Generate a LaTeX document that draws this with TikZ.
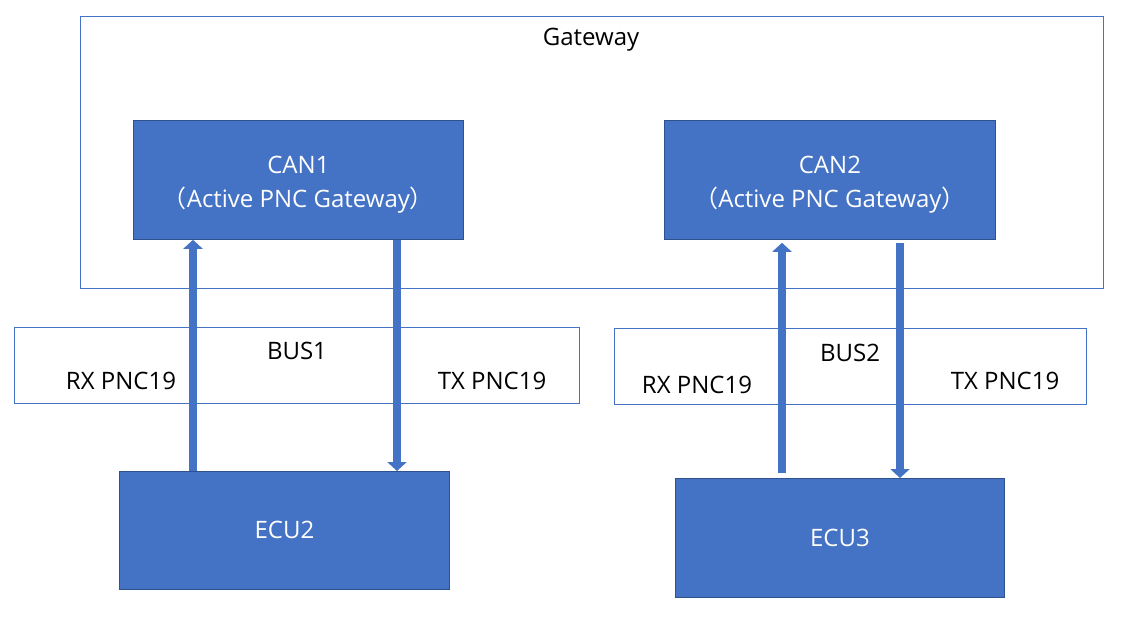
\documentclass[tikz,border=0pt]{standalone}
\usepackage{fontspec}
\setmainfont{Open Sans}
\newfontfamily\cjk{Noto Sans CJK SC}
\usetikzlibrary{arrows.meta}
\definecolor{accent}{HTML}{4472C4}
\definecolor{edge}{HTML}{2F528F}
\tikzset{
  blockbox/.style={draw=edge, line width=0.8pt, fill=accent, text=white, anchor=north west, inner sep=0pt, align=center},
  framebox/.style={draw=accent, line width=1pt, anchor=north west, inner sep=0pt},
  lbl/.style={inner sep=0pt, text=black},
  bigarrow/.style={draw=accent, line width=8pt, -{Triangle[width=19pt,length=9pt]}}
}
\begin{document}
\begin{tikzpicture}[x=1pt,y=-1pt, font=\fontsize{24}{34}\selectfont]
\useasboundingbox (0,0) rectangle (1126,617);
% frames
\node[framebox, minimum width=1023pt, minimum height=272pt] (gw) at (80,16) {};
\node[lbl] (gwl) at (591,40) {Gateway};
\node[framebox, minimum width=565pt, minimum height=76pt] (bus1) at (14,327) {};
\node[framebox, minimum width=472pt, minimum height=76pt] (bus2) at (614,328) {};
% blocks
\node[blockbox, minimum width=330pt, minimum height=119pt, text height=62pt, text depth=6pt] (can1) at (133,120) {CAN1\\{\cjk （}Active PNC Gateway{\cjk ）}};
\node[blockbox, minimum width=331pt, minimum height=119pt, text height=62pt, text depth=6pt] (can2) at (664,120) {CAN2\\{\cjk （}Active PNC Gateway{\cjk ）}};
\node[blockbox, minimum width=330pt, minimum height=118pt] (ecu2) at (119,471) {ECU2};
\node[blockbox, minimum width=329pt, minimum height=119pt] (ecu3) at (675,478) {ECU3};
% bus labels
\node[lbl] (b1) at (297,351) {BUS1};
\node[lbl] (rx1) at (121,381) {RX PNC19};
\node[lbl] (tx1) at (492,381) {TX PNC19};
\node[lbl] (b2) at (850,353) {BUS2};
\node[lbl] (rx2) at (697,385) {RX PNC19};
\node[lbl] (tx2) at (1005,381) {TX PNC19};
% arrows
\draw[bigarrow] ([xshift=74pt]ecu2.north west) -- ([xshift=60pt]can1.south west);
\draw[bigarrow] ([xshift=264pt]can1.south west) -- ([xshift=278pt]ecu2.north west);
\draw[bigarrow] ([xshift=107pt,yshift=5pt]ecu3.north west) -- ([xshift=118pt,yshift=-3pt]can2.south west);
\draw[bigarrow] ([xshift=236pt,yshift=-3pt]can2.south west) -- ([xshift=225pt]ecu3.north west);
\end{tikzpicture}
\end{document}
